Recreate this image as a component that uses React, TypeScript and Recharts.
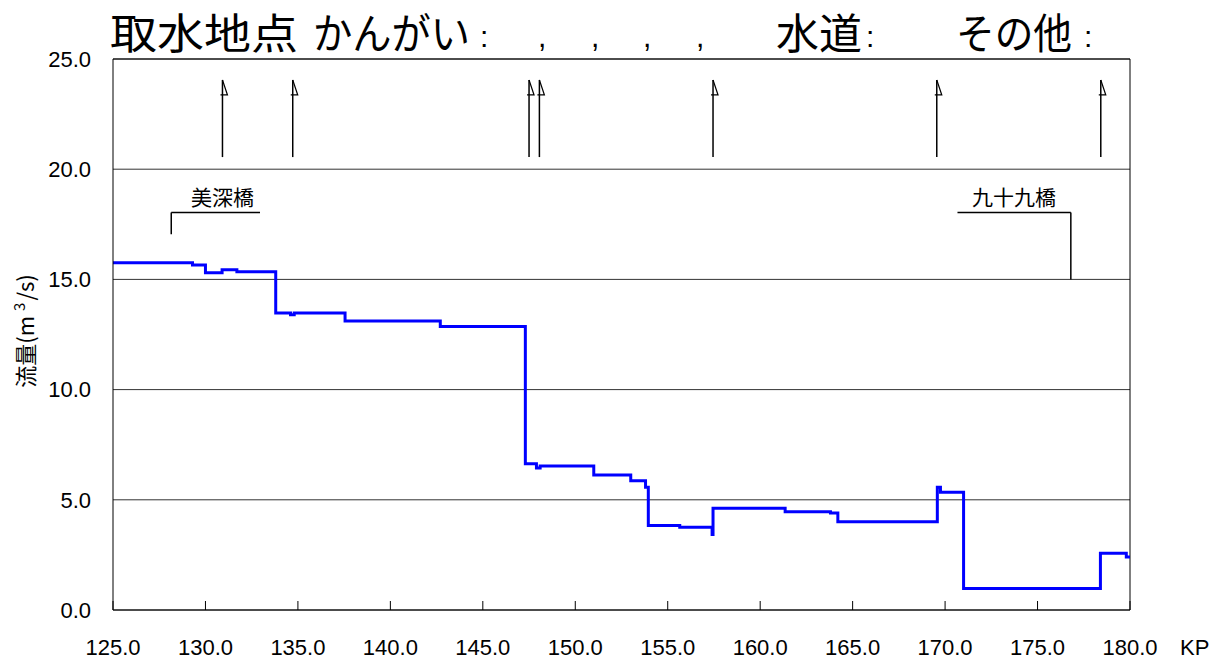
import React from 'react'
import {
  ComposedChart, Line, XAxis, YAxis, CartesianGrid, ReferenceLine, ReferenceDot,
} from 'recharts'

// flow profile along the river (KP, m3/s) - each point starts a step
const KP = [
  125.0, 129.3, 130.0, 130.9, 131.7, 133.8, 134.6, 134.8, 137.55, 142.7,
  147.3, 147.9, 148.1, 151.0, 153.0, 153.8, 153.95, 155.65, 157.4, 157.45,
  161.35, 163.8, 164.2, 169.58, 169.75, 171.0, 178.4, 179.8, 180.0,
]
const FLOW = [
  15.75, 15.65, 15.3, 15.44, 15.35, 13.48, 13.4, 13.48, 13.11, 12.86,
  6.64, 6.44, 6.53, 6.13, 5.87, 5.57, 3.83, 3.75, 3.42, 4.62,
  4.46, 4.4, 4.0, 5.57, 5.34, 0.97, 2.58, 2.41, 2.41,
]

// intake points (arrows in the top band)
const INTAKE_KP = [130.92, 134.72, 147.5, 148.06, 157.45, 169.55, 178.42]
const ARROW_BASE = 20.55
const ARROW_TIP = 24.05

const X_TICKS = [125, 130, 135, 140, 145, 150, 155, 160, 165, 170, 175, 180]
const Y_TICKS = [0, 5, 10, 15, 20, 25]

// bridges: bracket from..to at bar level, a drop line down to drop level
const BRIDGES = [
  { name: '美深橋', from: 128.15, to: 132.95, bar: 18.03, drop: 17.05, dropAt: 128.15, labelAt: 130.92 },
  { name: '九十九橋', from: 170.67, to: 176.8, bar: 18.03, drop: 15.0, dropAt: 176.8, labelAt: 173.73 },
]

const TITLE_WORDS = [
  { text: '取水地点', x: 110, w: 188 },
  { text: 'かんがい', x: 313, w: 157 },
  { text: '水道', x: 776, w: 86 },
  { text: 'その他', x: 956, w: 116 },
]
const TITLE_MARKS = [
  { text: ':', x: 480 },
  { text: ',', x: 538 },
  { text: ',', x: 591 },
  { text: ',', x: 643 },
  { text: ',', x: 696 },
  { text: ':', x: 866 },
  { text: ':', x: 1084 },
]

const data = KP.map((kp, i) => ({ kp, q: FLOW[i] }))
const NUM_FONT = '"Liberation Sans", Arial, sans-serif'
const JP_FONT = '"Noto Sans CJK JP", "Noto Sans", sans-serif'

function XTick(props: any) {
  const { x, y, payload } = props
  return (
    <g>
      <line x1={x} x2={x} y1={y} y2={y - 9} stroke="#000" />
      <text x={x} y={y + 45} textAnchor="middle" fontSize={22} fontFamily={NUM_FONT} fill="#000">
        {Number(payload.value).toFixed(1)}
      </text>
    </g>
  )
}

function ArrowHead(props: any) {
  const { cx, cy } = props
  return <path d={`M${cx},${cy} L${cx + 5},${cy + 15} L${cx - 2},${cy + 15}`} fill="none" stroke="#000" strokeWidth={1.2} />
}

export default function App() {
  return (
    <div style={{ position: 'absolute', left: 0, top: 0, width: 1211, height: 660, background: '#fff' }}>
      <ComposedChart width={1211} height={660} data={data} margin={{ top: 59, right: 81, bottom: 0, left: 0 }}>
        <CartesianGrid vertical={false} stroke="#333" strokeOpacity={1} />
        <XAxis
          dataKey="kp"
          type="number"
          domain={[125, 180]}
          ticks={X_TICKS}
          allowDataOverflow
          height={50}
          tickLine={false}
          tickSize={0}
          tickMargin={0}
          stroke="#000"
          tick={<XTick />}
        />
        <YAxis
          type="number"
          domain={[0, 25]}
          ticks={Y_TICKS}
          width={113}
          tickLine={false}
          tickSize={0}
          tickMargin={22}
          stroke="#000"
          tick={{ fontSize: 22, fill: '#000', fontFamily: NUM_FONT }}
          tickFormatter={(v) => Number(v).toFixed(1)}
        />
        <ReferenceLine x={180} stroke="#000" />
        <ReferenceLine y={25} stroke="#000" />

        {INTAKE_KP.map((k) => (
          <ReferenceLine key={'s' + k} segment={[{ x: k, y: ARROW_BASE }, { x: k, y: ARROW_TIP }]} stroke="#000" strokeWidth={1.5} />
        ))}
        {INTAKE_KP.map((k) => (
          <ReferenceDot key={'h' + k} x={k} y={ARROW_TIP} shape={<ArrowHead />} />
        ))}

        {BRIDGES.map((b) => (
          <ReferenceLine key={'b' + b.name} segment={[{ x: b.from, y: b.bar }, { x: b.to, y: b.bar }]} stroke="#000" strokeWidth={1.5} />
        ))}
        {BRIDGES.map((b) => (
          <ReferenceLine key={'d' + b.name} segment={[{ x: b.dropAt, y: b.bar }, { x: b.dropAt, y: b.drop }]} stroke="#000" strokeWidth={1.5} />
        ))}
        {BRIDGES.map((b) => (
          <ReferenceDot
            key={'l' + b.name}
            x={b.labelAt}
            y={b.bar}
            r={0}
            fill="none"
            stroke="none"
            label={{ value: b.name, position: 'top', offset: 8, fontSize: 21, fill: '#000', fontFamily: JP_FONT }}
          />
        ))}

        <Line
          type="stepAfter"
          dataKey="q"
          stroke="#0000ff"
          strokeWidth={3}
          dot={false}
          isAnimationActive={false}
        />
      </ComposedChart>

      {/* title, axis names */}
      <svg width={1211} height={660} style={{ position: 'absolute', left: 0, top: 0, pointerEvents: 'none' }}>
        {TITLE_WORDS.map((p, i) => (
          <text key={i} x={p.x} y={49} fontSize={42} textLength={p.w} lengthAdjust="spacingAndGlyphs" fontFamily={JP_FONT} fill="#000">
            {p.text}
          </text>
        ))}
        {TITLE_MARKS.map((p, i) => (
          <text key={'m' + i} x={p.x} y={47} fontSize={30} fontFamily={NUM_FONT} fill="#000">{p.text}</text>
        ))}
        <text x={1180} y={655} fontSize={22} fontFamily={NUM_FONT} fill="#000">KP</text>
        <text
          transform="translate(34,331) rotate(-90)"
          textAnchor="middle"
          fontSize={22}
          fontFamily={JP_FONT}
          fill="#000"
        >
          流量(m<tspan dy={-9} fontSize={15} dx={5}>3</tspan><tspan dy={9} dx={2}>/s)</tspan>
        </text>
      </svg>
    </div>
  )
}
